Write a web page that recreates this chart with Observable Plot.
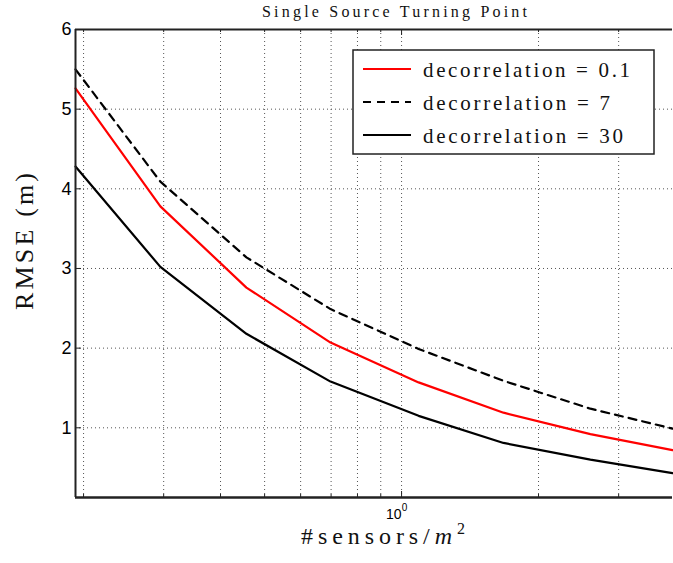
<!DOCTYPE html>
<html><head><meta charset="utf-8">
<script src="https://cdn.jsdelivr.net/npm/d3@7"></script>
<script src="https://cdn.jsdelivr.net/npm/@observablehq/plot@0.6"></script>
<style>body{margin:0;background:#fff} #chart svg{display:block}</style>
</head><body><div id="chart"></div>
<script>
// ---- data ----
const density = [0.192, 0.295, 0.456, 0.698, 1.09, 1.675, 2.60, 3.94];
const rmseDecor01 = [5.26, 3.78, 2.76, 2.07, 1.57, 1.19, 0.92, 0.72];
const rmseDecor7  = [5.50, 4.09, 3.14, 2.49, 1.99, 1.59, 1.24, 0.99];
const rmseDecor30 = [4.28, 3.02, 2.18, 1.58, 1.15, 0.81, 0.60, 0.43];
const seriesLabels = ["decorrelation = 0.1", "decorrelation = 7", "decorrelation = 30"];
const yTicks = [1, 2, 3, 4, 5, 6];
const xMinorTicks = [0.2, 0.3, 0.4, 0.5, 0.6, 0.7, 0.8, 0.9, 2, 3];
const xMajorTicks = [1];
const xDomain = [0.192, 3.94];
const yDomain = [0.125, 6];
const titleText = "Single Source Turning Point";
const yLabelText = "RMSE (m)";

// ---- layout / style ----
const W = 673, H = 563, mL = 75, mR = 1, mT = 29, mB = 66;
const pw = W - mL - mR, ph = H - mT - mB;
const serif = "Liberation Serif";
const styles = [
  {stroke: "#ff0000", dash: null},
  {stroke: "#000000", dash: "8,6"},
  {stroke: "#000000", dash: null}
];
const seriesValues = [rmseDecor01, rmseDecor7, rmseDecor30];
const series = seriesValues.map((vals, k) => ({
  label: seriesLabels[k], ...styles[k],
  rows: density.map((d, i) => ({x: d, y: vals[i]}))
}));

const grid = {stroke: "#555", strokeDasharray: "1,3", strokeWidth: 1};
const axisColor = "#222";

const chart = Plot.plot({
  width: W, height: H,
  marginLeft: mL, marginRight: mR, marginTop: mT, marginBottom: mB,
  x: {type: "log", domain: xDomain, axis: null},
  y: {domain: yDomain},
  style: {background: "white", fontFamily: "Liberation Sans", color: "black"},
  marks: [
    Plot.ruleY(yTicks.slice(0, -1), grid),
    Plot.ruleX([...xMinorTicks, ...xMajorTicks], grid),
    ...series.map(s => Plot.line(s.rows, {
      x: "x", y: "y", stroke: s.stroke, strokeWidth: 2.2,
      strokeDasharray: s.dash, strokeLinejoin: "miter"
    })),
    Plot.tickY(yTicks, {stroke: axisColor, insetRight: pw - 6}),
    Plot.tickX(xMinorTicks, {stroke: axisColor, insetTop: ph - 3}),
    Plot.tickX(xMinorTicks, {stroke: axisColor, insetBottom: ph - 3}),
    Plot.tickX(xMajorTicks, {stroke: axisColor, insetTop: ph - 6}),
    Plot.tickX(xMajorTicks, {stroke: axisColor, insetBottom: ph - 6}),
    Plot.ruleX([xDomain[0]], {stroke: axisColor, strokeWidth: 2}),
    Plot.ruleY([yDomain[0]], {stroke: axisColor, strokeWidth: 2.5}),
    Plot.ruleY([yDomain[1]], {stroke: axisColor, strokeWidth: 1.8}),
    Plot.axisY(yTicks, {tickSize: 0, tickPadding: 4, fontSize: 18, label: null, tickFormat: d => String(d)})
  ]
});
document.getElementById("chart").appendChild(chart);

const svg = d3.select(chart);
const xs = chart.scale("x");

function fit(sel, target) {
  const node = sel.node();
  const n = node.getNumberOfChars();
  const len = node.getComputedTextLength();
  sel.attr("letter-spacing", ((target - len) / Math.max(1, n - 1)).toFixed(2));
}

// title
const title = svg.append("text")
  .attr("x", 262).attr("y", 17).attr("text-anchor", "start")
  .attr("font-family", serif).attr("font-size", 16).attr("fill", "#111")
  .text(titleText);
fit(title, 265);

// y label
const yl = svg.append("text")
  .attr("transform", "translate(32.5,310) rotate(-90)").attr("text-anchor", "start")
  .attr("font-family", serif).attr("font-size", 26).attr("fill", "#111")
  .text(yLabelText);
fit(yl, 137);

// x tick label 10^0
const tx = svg.append("text")
  .attr("x", xs.apply(xMajorTicks[0]) - 15).attr("y", 519).attr("text-anchor", "start")
  .attr("font-family", "Liberation Sans").attr("font-size", 14).attr("fill", "#000");
tx.append("tspan").text("10");
tx.append("tspan").attr("font-size", 10).attr("dy", -8).text("0");

// x label
const xl = svg.append("text")
  .attr("x", 301).attr("y", 544).attr("text-anchor", "start")
  .attr("font-family", serif).attr("font-size", 24).attr("fill", "#111");
xl.append("tspan").text("#sensors/");
xl.append("tspan").attr("font-style", "italic").text("m");
xl.append("tspan").attr("font-size", 16).attr("dy", -10).text("2");
fit(xl, 164);

// legend
const lg = svg.append("g");
lg.append("rect").attr("x", 353).attr("y", 50).attr("width", 301).attr("height", 104)
  .attr("fill", "white").attr("stroke", axisColor).attr("stroke-width", 1.5);
const targets = [207, 187, 200];
series.forEach((s, i) => {
  const cy = 69 + i * 33;
  lg.append("line").attr("x1", 363).attr("x2", 411).attr("y1", cy).attr("y2", cy)
    .attr("stroke", s.stroke).attr("stroke-width", 2.2)
    .attr("stroke-dasharray", s.dash);
  const t = lg.append("text").attr("x", 423).attr("y", cy + 8).attr("text-anchor", "start")
    .attr("font-family", serif).attr("font-size", 21).attr("fill", "#111")
    .text(s.label);
  fit(t, targets[i]);
});
</script>
</body></html>
